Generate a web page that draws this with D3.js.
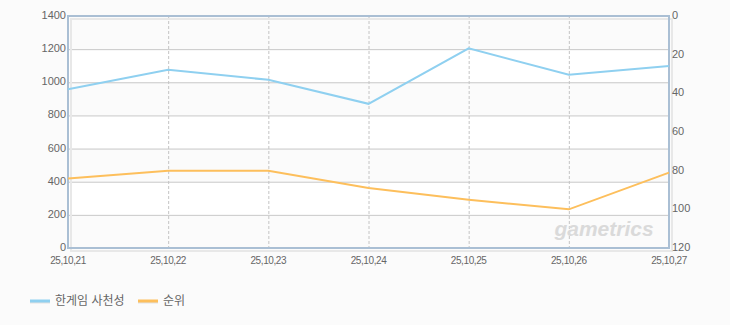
<!DOCTYPE html>
<html>
<head>
<meta charset="utf-8">
<script src="https://cdn.jsdelivr.net/npm/d3@7"></script>
<style>
  body { margin: 0; background: #fbfbfb; }
  svg text { font-family: "Liberation Sans", "Noto Sans CJK KR", sans-serif; }
</style>
</head>
<body>
<div id="viz-container"></div>
<script>
// data
let dates = ["25,10,21", "25,10,22", "25,10,23", "25,10,24", "25,10,25", "25,10,26", "25,10,27"];
let players = [958, 1075, 1015, 870, 1205, 1045, 1098];
let ranks = [84, 80, 80, 89, 95, 100, 81];
let leftTicks = [0, 200, 400, 600, 800, 1000, 1200, 1400];
let rightTicks = [0, 20, 40, 60, 80, 100, 120];
let seriesNames = ["한게임 사천성", "순위"];
let seriesColors = ["#8fd0f0", "#fdbf5c"];

let W = 730, H = 325;
let plotL = 68, plotR = 669, plotT = 16, plotB = 248;

let viz = d3.select("#viz-container")
  .append("svg")
    .attr("width", W)
    .attr("height", H);

let x = d3.scalePoint().domain(dates).range([plotL, plotR]);
let yL = d3.scaleLinear().domain([0, 1400]).range([plotB, plotT]);
let yR = d3.scaleLinear().domain([0, 120]).range([plotT, plotB]);

// alternating bands
viz.selectAll(".band").data(leftTicks.slice(0, -1)).enter().append("rect")
  .attr("x", plotL)
  .attr("width", plotR - plotL)
  .attr("y", d => yL(d + 200))
  .attr("height", d => yL(d) - yL(d + 200))
  .attr("fill", (d, i) => i % 2 == 0 ? "#fbfbfb" : "#ffffff");

// horizontal grid
viz.selectAll(".hgrid").data(leftTicks.slice(1, -1)).enter().append("line")
  .attr("x1", plotL).attr("x2", plotR)
  .attr("y1", d => yL(d) + 0.5).attr("y2", d => yL(d) + 0.5)
  .attr("stroke", "#c8c8c8");

// vertical dashed grid
viz.selectAll(".vgrid").data(dates.slice(1, -1)).enter().append("line")
  .attr("x1", d => x(d) + 0.5).attr("x2", d => x(d) + 0.5)
  .attr("y1", plotT).attr("y2", plotB)
  .attr("stroke", "#c4c4c4")
  .attr("stroke-dasharray", "3,2");

// shadow of frame
viz.append("rect")
  .attr("x", plotL + 3).attr("y", plotT + 3)
  .attr("width", plotR - plotL).attr("height", plotB - plotT)
  .attr("fill", "none").attr("stroke", "#e8e8e8").attr("stroke-width", 2);

// frame
viz.append("rect")
  .attr("x", plotL).attr("y", plotT)
  .attr("width", plotR - plotL).attr("height", plotB - plotT)
  .attr("fill", "none").attr("stroke", "#aabfd4").attr("stroke-width", 2);

// watermark
viz.append("text")
  .attr("x", 604).attr("y", 236)
  .attr("text-anchor", "middle")
  .attr("font-size", 21)
  .attr("font-style", "italic")
  .attr("font-weight", "bold")
  .attr("fill", "#dadada")
  .text("gametrics");

// lines
let lineL = d3.line().x((d, i) => x(dates[i])).y(d => yL(d));
let lineR = d3.line().x((d, i) => x(dates[i])).y(d => yR(d));

viz.append("path").datum(players)
  .attr("d", lineL).attr("fill", "none")
  .attr("stroke", seriesColors[0]).attr("stroke-width", 2);
viz.append("path").datum(ranks)
  .attr("d", lineR).attr("fill", "none")
  .attr("stroke", seriesColors[1]).attr("stroke-width", 2);

// axis labels
viz.selectAll(".ltick").data(leftTicks).enter().append("text")
  .attr("x", plotL - 2).attr("y", d => yL(d) + 3)
  .attr("text-anchor", "end")
  .attr("font-size", 11).attr("fill", "#666")
  .text(d => d);

viz.selectAll(".rtick").data(rightTicks).enter().append("text")
  .attr("x", plotR + 3).attr("y", d => yR(d) + 3)
  .attr("font-size", 11).attr("fill", "#666")
  .text(d => d);

viz.selectAll(".xtick").data(dates).enter().append("text")
  .attr("x", d => x(d)).attr("y", plotB + 16)
  .attr("text-anchor", "middle")
  .attr("font-size", 10).attr("fill", "#666")
  .attr("letter-spacing", -0.4)
  .text(d => d);

// legend
let legendX = [30, 138];
let lg = viz.selectAll(".legend").data(seriesNames).enter().append("g")
  .attr("transform", (d, i) => "translate(" + legendX[i] + ",301)");
lg.append("line")
  .attr("x1", 0).attr("x2", 20).attr("y1", 1).attr("y2", 1)
  .attr("stroke", "#e2e2e2").attr("stroke-width", 3);
lg.append("line")
  .attr("x1", 0).attr("x2", 20).attr("y1", 0).attr("y2", 0)
  .attr("stroke", (d, i) => seriesColors[i]).attr("stroke-width", 3);
lg.append("text")
  .attr("x", 25).attr("y", 4)
  .attr("font-size", 12).attr("fill", "#666")
  .text(d => d);
</script>
</body>
</html>
